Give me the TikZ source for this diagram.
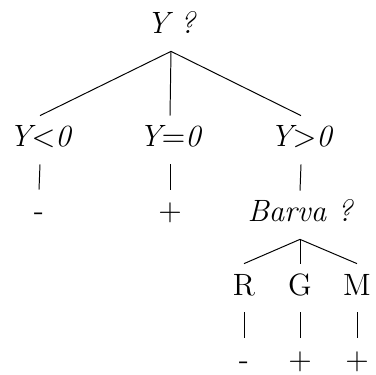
\documentclass[tikz,border=0pt]{standalone}
\begin{document}
\begin{tikzpicture}[x=0.357pt,y=-0.357pt,
  lbl/.style={anchor=base,text height=8pt,text depth=3pt,inner sep=3pt,font=\fontsize{11}{13}\selectfont},
  q/.style={lbl,font=\fontsize{11}{13}\selectfont\itshape},
  edge/.style={draw=black,line width=0.35pt}]
\useasboundingbox (0,0) rectangle (375,375);
% level 0
\node[q] (root) at (171,34) {Y ?};
% level 1
\node[q] (neg) at (40,147) {Y$<$0};
\node[q] (zer) at (170,147) {Y$=$0};
\node[q] (pos) at (301,147) {Y$>$0};
% level 2
\node[lbl] (l1) at (39,221) {-};
\node[lbl] (l2) at (170,221) {+};
\node[q] (barva) at (300,222) {Barva ?};
% level 3
\node[lbl] (r) at (244,295) {R};
\node[lbl] (g) at (300,295) {G};
\node[lbl] (m) at (357,295) {M};
% level 4
\node[lbl] (l3) at (244,369) {-};
\node[lbl] (l4) at (300,369) {+};
\node[lbl] (l5) at (357,369) {+};
% edges
\draw[edge] (root.south) -- (neg.north);
\draw[edge] (root.south) -- (zer.north);
\draw[edge] (root.south) -- (pos.north);
\draw[edge] (neg.south) -- (l1.north);
\draw[edge] (zer.south) -- (l2.north);
\draw[edge] (pos.south) -- (barva.north);
\draw[edge] (barva.south) -- (r.north);
\draw[edge] (barva.south) -- (g.north);
\draw[edge] (barva.south) -- (m.north);
\draw[edge] (r.south) -- (l3.north);
\draw[edge] (g.south) -- (l4.north);
\draw[edge] (m.south) -- (l5.north);
\end{tikzpicture}
\end{document}
